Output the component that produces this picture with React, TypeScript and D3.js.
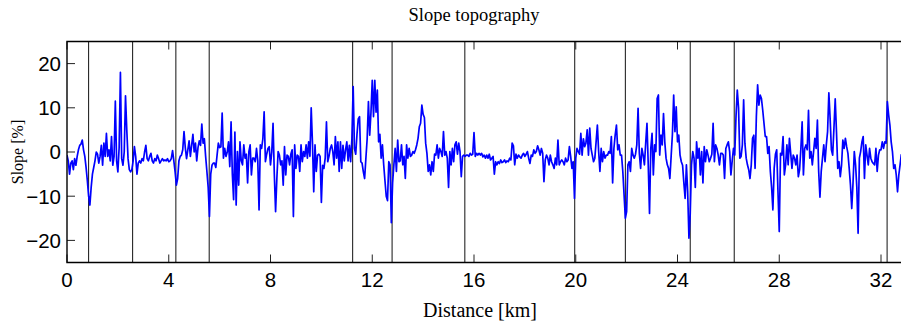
import React from "react";
import * as d3 from "d3";

const STEP_KM = 0.05;
const slope: number[] = [
  -0.7, -2, -5, -2.5, -2, -4, -1.5, -3, -1, 0.5, 1.5, 1.8, 2.7, 0.5, -1, -3.5, -6.5, -10, -12, -8,
  -5, -3.5, -2, 0, -0.5, -2.5, -1, 1.5, -3, 2, -1, 4.2, -1, 0.5, -2, 3.5, -3, -1, 11.5, -2,
  -4.5, 1, 18, -1.5, -3, 0, 12.7, 5, -1.5, -4, -4.5, -4, -2, 1.2, -1, -5, -2.5, -2, -2.5, -1.5,
  -2, 0, 1.5, -1.5, -2, -1, -0.3, -2, -2.5, -1.5, -2, -0.7, -1.5, -2.5, -2, -1.5, -2, -1.8, -2, -1.5,
  -2.2, -2, -1.5, 0.3, -2, -4.5, -7.5, -6, -2, -1, -0.7, 0.5, 4.6, 1, -1.5, 0.5, 2.5, -1, 1.5, 4,
  0, 2, -2, 1, 2.5, 1.5, 6.3, 2, 3, -1,
  -4.4, -8, -14.6, -5, -3, -2.5, -2.5, -3.5, -0.7, 2, 1, 1.2, 8.8, -1.4, 0.8, -1, 0, 2.3, -3.3, 6.8,
  -5, -10.8, 4.5, -12, 0.1, -7.5, 2.3, -2, -2.9, 1.6, -1.4, -0.5, -7, 0.1, 1.6, -5.2, -1.4, -1.4, -2.2, 0.8,
  -2, -13.1, 1.6, 0.8, 3, 9.1, -2.2, -0.5, 0.8, 1.2, -2.9, 0, 6.5, -5, -13.5, -6, 0.1, -0.7, -2.9, -2,
  -7.5, 1.2, -5.2, -0.7, -1, -2.9, -0.5, 0.5, -14.6, 1.6, -3.7, -0.7, -1, -4.4, 1.6, -2.2, 0.1, -1, 1.6, -1.4,
  2.3, -1, 10, 2, -9, 1.6, -4.4, -0.7, -0.5, -1, -11.4, -3, -3.7, -1.4, 6.8, -2.2, -1, 0.8, 1.6, 0.1,
  -2.9, 3.5, -1.4, 2.3, -4.4, 2.3, -3.7, 1.5, -2, 0.5,
  2.3, -2, 1.5, -2.2, 3, 14.8, 0.8, -0.5, 4, 7.5, 8, -2.2, -2.5, -4.5, -6, -1.4, 3, 11.4, 3.8, 9,
  16.2, 8, 16.2, 9, 14, 2.3, 4, -1.4, 1.6, -2.9, -6.5, -10, -11, -2.2, -2.9, -16, -7, -2.9, 0.8, -4.4,
  2.7, -2.2, -2, 1.6, -2.9, -1, -6, 1.6, -1.4, 0.8, -1, -0.7, 0.1, -0.3, 0.5, 1.6, 3.1, 5.7, 6.5, 10.6,
  8.5, 7.8, 2, -0.3, -4.4, -2.9, -5.2, -2.2, -4.4, -0.5, -0.7, 1.6, -1.4, 0.8, 0.1, -1, 4.6, -0.7, 0.1, -1.4,
  -8, 0.1, -2.9, 0.8, -2.2, 1.6, 2.3, -0.5, 2, 0.1, -5.6, -1, -0.7, -1, -0.7, -0.7, -1, -0.3, -0.7, -0.5,
  4.4, -1, -0.3, -0.7, -0.3, -0.7, -0.3, -1.1, -0.7, -1.4,
  -0.7, -1.4, -0.5, -1.8, -1.4, -1, -5, -2.2, -2.9, -2.2, -2.6, -1.8, -2.4, -2.2, -1.8, -2.4, -2, -2.2, -1.4, -1.8,
  2, 1.4, -2.9, -0.5, -1.4, -0.7, -1.1, -1.4, -0.7, -0.3, -1, -0.5, 0.1, -1.4, -2.6, -0.7, -1, 0.5, -0.3, 0.1,
  1.4, 0.5, -0.7, 0.8, -0.3, -6.7, -1.8, -0.7, -1.4, -2.9, -0.7, -2.2, -2.9, -3.7, -1.4, -2.9, 2.7, -2.9, -2.2, -1.8,
  -2.2, -2.9, -1.4, -2.2, -1.8, 1.2, -1, -3.7, -2.2, -10.5, -1.4, 0.8, 0.1, -0.5, 4.2, -0.7, 3, 1.2, 2, 5,
  -0.7, 5.4, 0.8, -0.7, -2.2, -1.4, 2.3, 6.1, 0.1, -4.4, 0.8, -2.2, 0.1, -1.4, -0.7, -0.7, 0.1, -0.3, 3.5, -7,
  0.8, 3.8, 6.1, 0.5, 1.6, -0.7, -0.7, -4.4, -9.7, -15,
  -13.5, -2.9, -2.2, -4.4, 0.8, -0.7, -1.4, -0.5, 1.6, 9.9, -0.3, -3.7, 0.8, -0.7, -2.9, 2, 6.5, -2.9, -13.9, 0.8,
  4.2, -5.2, 1.6, 0.1, 12.1, 12.9, -0.7, 3.8, 1.6, 8.7, 2.3, -1.4, -2.9, -3.7, -6, -1, 4, 12.9, 4.6, 10.2,
  2.3, 3.8, -0.7, -2.2, -3, -7, -10.5, -2.9, -9, -19.5, -14, -2.9, 0.1, -1.4, -8, 2.3, -1.4, 0.8, -5.2, 0.1,
  -7, 1.2, -2.2, 0.5, -0.7, -2.2, -1.4, -0.5, 6.5, -2.2, 1.6, 0.8, -0.7, -2.9, -0.3, -0.3, -0.7, -6, 0.8, 1.6,
  2.3, 0.1, -5.2, -2, 0.8, -0.7, 8, 14, 10, -1.4, -1, 1.6, 11.8, 2, -1.4, -2.9, -4, -6, -2.9, 3.1,
  3.8, -3.7, 8, 15.2, 10.6, 12.9, 12.1, 9.5, 6.5, 3.5,
  3.5, -0.3, 1.2, -4.4, -8, -13.1, -3.7, -0.5, 0.5, -9, -18, -0.3, -0.7, 3.5, -5.2, -2.9, 1.6, -2.9, 3.1, -0.3,
  -3.7, -0.7, -1.4, -2.9, -0.7, -5.6, -4, 0.8, 6.8, -5.2, 0.8, 1.6, 0.5, 9.4, -1.4, 0.1, -2.9, 0.1, 3.1, 0.8,
  7.2, -4.4, -10.2, -4.4, -1.4, 1.6, -2.2, 1.6, 4.6, 13.4, 7.6, 0.5, -0.7, 5.4, 12, 4.6, -3.7, -2.2, -5.6, -2.9,
  2.7, 0.8, 3.1, 1.2, -0.3, -3.7, -7.5, -12.8, -7, 0.1, -2.9, -8, -18.4, -1.4, 0.1, 2.3, 3.5, -6, 1.6, -0.7,
  -2.9, 0.8, -1.4, -2.2, -2.6, -2.9, 0.8, -4.4, -0.7, 0.5, 0.5, 2.3, 0.8, 2.3, 2, 11.4, 8.4, 6.1, 2.3, 0.1,
  -3.7, -2.9, -5.2, -9, -5.2, -2.9, -0.5,
];
const eventKm: number[] = [0.85, 2.58, 4.28, 5.59, 11.23, 12.78, 15.64, 19.96, 21.95, 24.5, 26.23, 32.24];
const xTicks: number[] = [0, 4, 8, 12, 16, 20, 24, 28, 32];
const yTicks: number[] = [-20, -10, 0, 10, 20];

const W = 901;
const H = 322;
const left = 67;
const right = 901;
const top = 41.5;
const bottom = 262.5;

export default function App() {
  const x = d3.scaleLinear().domain([0, 32]).range([left, 881]);
  const y = d3.scaleLinear().domain([-25, 25]).range([bottom, top]);
  const pts: [number, number][] = slope.map((v, i) => [i * STEP_KM, v]);
  const line = d3
    .line<[number, number]>()
    .x((d) => x(d[0]))
    .y((d) => y(d[1]));
  const fmt = (v: number) => (v < 0 ? "\u2212" + Math.abs(v) : String(v));
  return (
    <svg
      width={W}
      height={H}
      style={{ position: "fixed", left: 0, top: 0, background: "#fff" }}
    >
      <defs>
        <clipPath id="plotclip">
          <rect x={left} y={top} width={right - left + 10} height={bottom - top} />
        </clipPath>
      </defs>
      <rect x={0} y={0} width={W} height={H} fill="#fff" />
      <g clipPath="url(#plotclip)">
        {eventKm.map((k, i) => (
          <line key={i} x1={x(k)} x2={x(k)} y1={top} y2={bottom} stroke="#111" strokeWidth={1} />
        ))}
        <path d={line(pts) || ""} fill="none" stroke="#0000ff" strokeWidth={1.7} strokeLinejoin="round" />
      </g>
      {xTicks.map((t) => (
        <g key={"x" + t}>
          <line x1={x(t)} x2={x(t)} y1={bottom} y2={bottom - 8} stroke="#222" strokeWidth={1} />
          <line x1={x(t)} x2={x(t)} y1={top} y2={top + 8} stroke="#222" strokeWidth={1} />
          <text
            x={x(t)}
            y={287}
            textAnchor="middle"
            fontFamily="'Liberation Sans', Arial, sans-serif"
            fontSize={20.5}
            fill="#000"
          >
            {fmt(t)}
          </text>
        </g>
      ))}
      {yTicks.map((t) => (
        <g key={"y" + t}>
          <line x1={left} x2={left + 8} y1={y(t)} y2={y(t)} stroke="#222" strokeWidth={1} />
          <text
            x={61}
            y={y(t) + 7.3}
            textAnchor="end"
            fontFamily="'Liberation Sans', Arial, sans-serif"
            fontSize={20.5}
            fill="#000"
          >
            {fmt(t)}
          </text>
        </g>
      ))}
      <path
        d={`M${right + 5},${top} H${left} V${bottom} H${right + 5}`}
        fill="none"
        stroke="#000"
        strokeWidth={1.4}
      />
      <text
        x={474}
        y={21}
        textAnchor="middle"
        fontFamily="'Liberation Serif', 'Times New Roman', serif"
        fontSize={18.5}
        fill="#000"
      >
        Slope topography
      </text>
      <text
        x={480}
        y={316.5}
        textAnchor="middle"
        fontFamily="'Liberation Serif', 'Times New Roman', serif"
        fontSize={20}
        fill="#000"
      >
        Distance [km]
      </text>
      <text
        transform="translate(23,152) rotate(-90)"
        textAnchor="middle"
        fontFamily="'Liberation Serif', 'Times New Roman', serif"
        fontSize={16}
        fill="#000"
      >
        Slope [%]
      </text>
    </svg>
  );
}
